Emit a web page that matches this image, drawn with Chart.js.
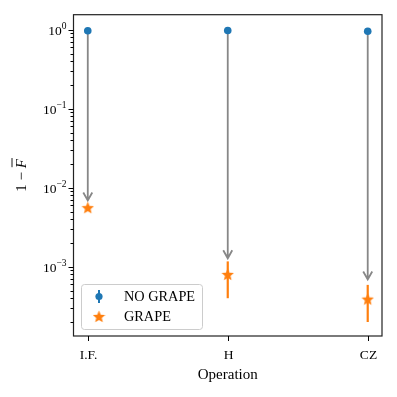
<!DOCTYPE html>
<html>
<head>
<meta charset="utf-8">
<script src="https://cdn.jsdelivr.net/npm/chart.js@4"></script>
<style>
  html, body { margin: 0; padding: 0; background: #fff; }
  #wrap { width: 397px; height: 397px; }
</style>
</head>
<body>
<div id="wrap"><canvas id="myChart"></canvas></div>
<script>
// data
const operations = ['I.F.', 'H', 'CZ'];
const noGrape = [0.97, 0.98, 0.955];
const grape = [5.6e-3, 8.0e-4, 3.9e-4];
const grapeErrLow = [5.4e-3, 4.0e-4, 2.0e-4];
const grapeErrHigh = [5.8e-3, 1.17e-3, 5.9e-4];
const arrowEnd = [6.9e-3, 1.28e-3, 6.9e-4];
const yMajorTicks = [1e-3, 1e-2, 1e-1, 1];

const serif = '"Liberation Serif", "DejaVu Serif", serif';
const blue = '#1f77b4';
const orange = '#ff7f0e';

// filled star marker like matplotlib '*'
function makeStar(size, color) {
    const c = document.createElement('canvas');
    c.width = size; c.height = size;
    const g = c.getContext('2d');
    const cx = size / 2, cy = size / 2 + 0.6, R = size / 2, r = R * 0.45;
    g.beginPath();
    for (let i = 0; i < 10; i++) {
        const rad = i % 2 === 0 ? R : r;
        const a = -Math.PI / 2 + i * Math.PI / 5;
        const px = cx + rad * Math.cos(a), py = cy + rad * Math.sin(a);
        if (i === 0) g.moveTo(px, py); else g.lineTo(px, py);
    }
    g.closePath();
    g.fillStyle = color;
    g.fill();
    return c;
}
const star = makeStar(13, orange);

function sup(ctx, base, exp, x, y, align) {
    ctx.font = '13.5px ' + serif;
    const wb = ctx.measureText(base).width;
    ctx.font = '9.5px ' + serif;
    const we = ctx.measureText(exp).width;
    let x0 = align === 'right' ? x - wb - we : x;
    ctx.textAlign = 'left';
    ctx.textBaseline = 'middle';
    ctx.font = '13.5px ' + serif;
    ctx.fillText(base, x0, y + 1);
    ctx.font = '9.5px ' + serif;
    ctx.fillText(exp, x0 + wb, y - 4.5);
}

const decor = {
    id: 'decor',
    beforeDatasetsDraw(chart) {
        const ctx = chart.ctx;
        const xs = chart.scales.x, ys = chart.scales.y;
        ctx.save();
        // arrows
        ctx.strokeStyle = '#878787';
        ctx.lineWidth = 1.8;
        operations.forEach((op, i) => {
            const x = xs.getPixelForValue(i);
            const y0 = ys.getPixelForValue(noGrape[i]);
            const y1 = ys.getPixelForValue(arrowEnd[i]);
            ctx.beginPath();
            ctx.moveTo(x, y0);
            ctx.lineTo(x, y1);
            ctx.moveTo(x - 4.5, y1 - 8);
            ctx.lineTo(x, y1);
            ctx.lineTo(x + 4.5, y1 - 8);
            ctx.stroke();
        });
        // error bars
        ctx.strokeStyle = orange;
        ctx.lineWidth = 2.2;
        operations.forEach((op, i) => {
            const x = xs.getPixelForValue(i);
            ctx.beginPath();
            ctx.moveTo(x, ys.getPixelForValue(grapeErrHigh[i]));
            ctx.lineTo(x, ys.getPixelForValue(grapeErrLow[i]));
            ctx.stroke();
        });
        ctx.restore();
    },
    afterDraw(chart) {
        const ctx = chart.ctx;
        const a = chart.chartArea;
        const xs = chart.scales.x, ys = chart.scales.y;
        ctx.save();
        ctx.fillStyle = '#000';
        ctx.strokeStyle = '#000';
        ctx.lineWidth = 1;
        // frame
        ctx.strokeStyle = '#222';
        ctx.lineWidth = 1.2;
        ctx.strokeRect(a.left, a.top, a.right - a.left, a.bottom - a.top);
        ctx.strokeStyle = '#000';
        ctx.lineWidth = 1;
        // y ticks
        ys.ticks.forEach(t => {
            const y = Math.round(ys.getPixelForValue(t.value)) + 0.5;
            const major = yMajorTicks.includes(t.value);
            ctx.beginPath();
            ctx.moveTo(a.left, y);
            ctx.lineTo(a.left - (major ? 5 : 3), y);
            ctx.stroke();
            if (major) {
                const e = Math.round(Math.log10(t.value));
                sup(ctx, '10', e === 0 ? '0' : '\u2212' + (-e), a.left - 7, y, 'right');
            }
        });
        // x ticks
        ctx.font = '13.5px ' + serif;
        ctx.textAlign = 'center';
        ctx.textBaseline = 'middle';
        operations.forEach((op, i) => {
            const x = Math.round(xs.getPixelForValue(i)) + 0.5;
            ctx.beginPath();
            ctx.moveTo(x, a.bottom);
            ctx.lineTo(x, a.bottom + 5);
            ctx.stroke();
            ctx.fillText(op, x, a.bottom + 19);
        });
        // axis titles
        ctx.font = '15px ' + serif;
        ctx.fillText('Operation', (a.left + a.right) / 2, 375);
        ctx.save();
        ctx.translate(21, (a.top + a.bottom) / 2);
        ctx.rotate(-Math.PI / 2);
        const t1 = '1 \u2212 ';
        ctx.font = 'italic 15px ' + serif;
        const wF = ctx.measureText('F').width;
        ctx.font = '15px ' + serif;
        const w1 = ctx.measureText(t1).width;
        const sx = -(w1 + wF) / 2;
        ctx.textAlign = 'left';
        ctx.fillText(t1, sx, 1);
        ctx.font = 'italic 15px ' + serif;
        ctx.fillText('F', sx + w1, 1);
        ctx.beginPath();
        ctx.moveTo(sx + w1 + 1, -9);
        ctx.lineTo(sx + w1 + wF + 1, -9);
        ctx.lineWidth = 0.9;
        ctx.stroke();
        ctx.restore();
        // legend
        const lx = 81, ly = 284, lw = 121, lh = 45;
        ctx.fillStyle = 'rgba(255,255,255,0.8)';
        ctx.strokeStyle = '#cccccc';
        ctx.lineWidth = 1;
        ctx.beginPath();
        ctx.roundRect(lx + 0.5, ly + 0.5, lw, lh, 3);
        ctx.fill();
        ctx.stroke();
        ctx.strokeStyle = blue;
        ctx.lineWidth = 2;
        ctx.beginPath();
        ctx.moveTo(99, 290);
        ctx.lineTo(99, 303);
        ctx.stroke();
        ctx.fillStyle = blue;
        ctx.beginPath();
        ctx.arc(99, 296.5, 3.6, 0, Math.PI * 2);
        ctx.fill();
        ctx.drawImage(star, 92.5, 310);
        ctx.fillStyle = '#000';
        ctx.font = '14.3px ' + serif;
        ctx.textAlign = 'left';
        ctx.textBaseline = 'middle';
        ctx.fillText('NO GRAPE', 124, 297);
        ctx.fillText('GRAPE', 124, 317);
        ctx.restore();
    }
};

const ctx = document.getElementById('myChart');
const chart = new Chart(ctx, {
    type: 'scatter',
    data: {
        datasets: [{
            label: 'NO GRAPE',
            data: noGrape.map((v, i) => ({ x: i, y: v })),
            backgroundColor: blue,
            borderColor: blue,
            pointRadius: 3.8,
            borderWidth: 0
        }, {
            label: 'GRAPE',
            data: grape.map((v, i) => ({ x: i, y: v })),
            pointStyle: star,
            pointRadius: 6.5
        }]
    },
    options: {
        responsive: true,
        maintainAspectRatio: false,
        animation: false,
        layout: { padding: { left: 0, right: 15, top: 14.7, bottom: 0 } },
        plugins: { legend: { display: false }, tooltip: { enabled: false } },
        scales: {
            x: {
                type: 'linear',
                min: -0.102,
                max: 2.102,
                grid: { display: false },
                border: { display: false },
                ticks: { display: false },
                afterFit: s => { s.height = 61; }
            },
            y: {
                type: 'logarithmic',
                min: 1.33e-4,
                max: 1.55,
                grid: { display: false },
                border: { display: false },
                ticks: { display: false },
                afterFit: s => { s.width = 73.5; },
                afterBuildTicks: s => {
                    const t = [];
                    for (let e = -4; e <= 0; e++) {
                        for (let m = 1; m <= 9; m++) {
                            const v = m * Math.pow(10, e);
                            if (v >= s.min && v <= s.max) t.push({ value: v });
                        }
                    }
                    s.ticks = t;
                }
            }
        }
    },
    plugins: [decor]
});
</script>
</body>
</html>
